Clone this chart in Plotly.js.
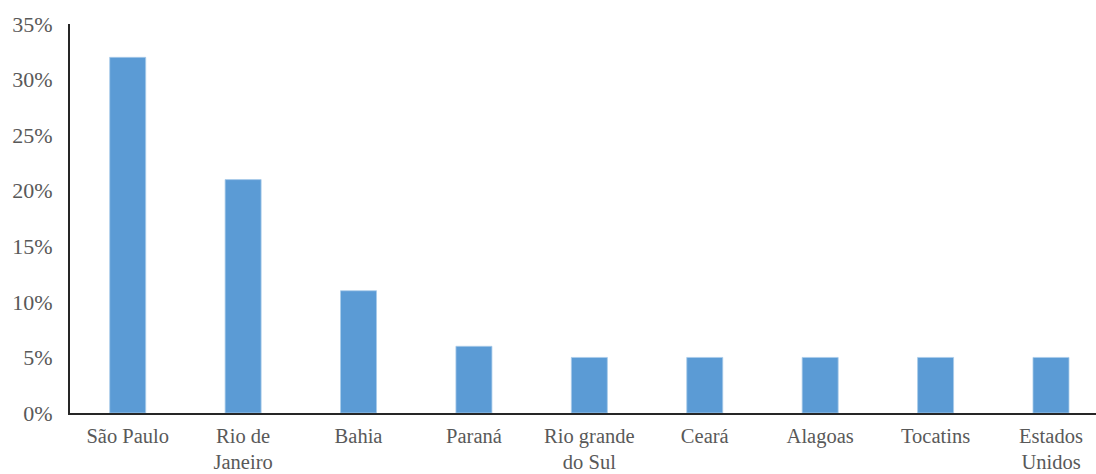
<!DOCTYPE html>
<html>
<head>
<meta charset="utf-8">
<script src="https://cdn.plot.ly/plotly-3.0.1.min.js"></script>
<style>html,body{margin:0;padding:0;background:#fff;}#chart{width:1096px;height:474px;}</style>
</head>
<body>
<div id="chart"></div>
<script>
const categories = ["São Paulo", "Rio de<br>Janeiro", "Bahia", "Paraná", "Rio grande<br>do Sul", "Ceará", "Alagoas", "Tocatins", "Estados<br>Unidos"];
const values = [0.32, 0.21, 0.11, 0.06, 0.05, 0.05, 0.05, 0.05, 0.05];
const yTicks = [0, 0.05, 0.10, 0.15, 0.20, 0.25, 0.30, 0.35];

const trace = {
  type: 'bar',
  x: categories.map((c, i) => i),
  y: values,
  marker: {color: '#5B9BD5', line: {color: '#A9CBEA', width: 0.8}},
  width: 0.312,
  hoverinfo: 'none'
};

const layout = {
  width: 1096, height: 474,
  margin: {l: 70, r: 0, t: 24, b: 61},
  paper_bgcolor: '#fff', plot_bgcolor: '#fff',
  font: {family: '"Liberation Serif", "Times New Roman", serif', size: 22, color: '#595959'},
  showlegend: false,
  xaxis: {
    tickmode: 'array',
    tickvals: categories.map((c, i) => i),
    ticktext: categories,
    tickfont: {size: 20.5},
    range: [-0.5, 8.39],
    showgrid: false, zeroline: false,
    showline: true, linecolor: '#262626', linewidth: 2,
    ticks: '', ticklabelstandoff: 3,
    fixedrange: true
  },
  yaxis: {
    range: [0, 0.35],
    tickvals: yTicks,
    tickformat: '.0%',
    tickfont: {size: 22},
    showgrid: false, zeroline: false,
    showline: true, linecolor: '#262626', linewidth: 2,
    ticks: '', ticklabelstandoff: 11,
    fixedrange: true
  }
};

Plotly.newPlot('chart', [trace], layout, {displayModeBar: false, staticPlot: true});
</script>
</body>
</html>
